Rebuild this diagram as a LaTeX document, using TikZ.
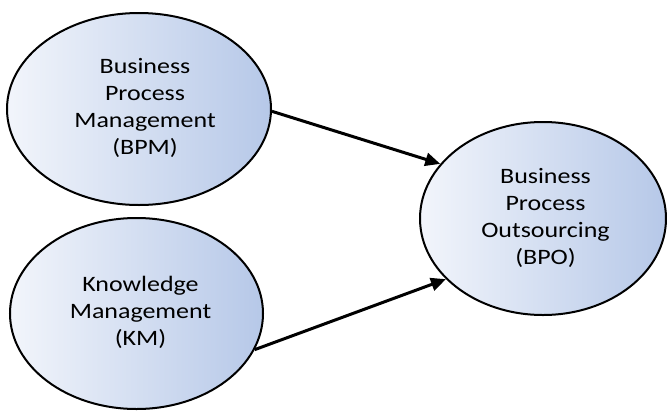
\documentclass[tikz,border=0pt]{standalone}
\usepackage{fontspec}
\setmainfont{Carlito}[FakeStretch=1.18]
\usetikzlibrary{shapes.geometric,arrows.meta}
% centred lines, pushed right by half of the given space and slightly down
\newcommand\bubbletext[2]{\hspace*{#1}\raisebox{-3pt}{\begin{tabular}{@{}c@{}}#2\end{tabular}}}
\begin{document}
\begin{tikzpicture}[x=1pt,y=-1pt,
  bubble/.style={ellipse, draw=black, line width=2pt, inner sep=0pt,
    left color={rgb,255:red,242;green,245;blue,251},
    right color={rgb,255:red,182;green,200;blue,232},
    font=\fontsize{22}{27}\selectfont, text=black},
  link/.style={line width=3pt, -{Triangle[length=15pt,width=13pt]}}]
  \useasboundingbox (0,0) rectangle (667,410);
  \node[bubble, minimum width=264pt, minimum height=192pt] (bpm) at (139,109)
    {\bubbletext{12pt}{Business\\Process\\Management\\(BPM)}};
  \node[bubble, minimum width=253pt, minimum height=191pt] (km) at (136.5,313.5)
    {\bubbletext{8pt}{Knowledge\\Management\\(KM)}};
  \node[bubble, minimum width=246pt, minimum height=193pt] (bpo) at (543,218.5)
    {\bubbletext{5pt}{Business\\Process\\Outsourcing\\(BPO)}};
  \draw[link] (bpm.-1) -- (bpo.152);
  \draw[link] (km.-17) -- (bpo.212);
\end{tikzpicture}
\end{document}
